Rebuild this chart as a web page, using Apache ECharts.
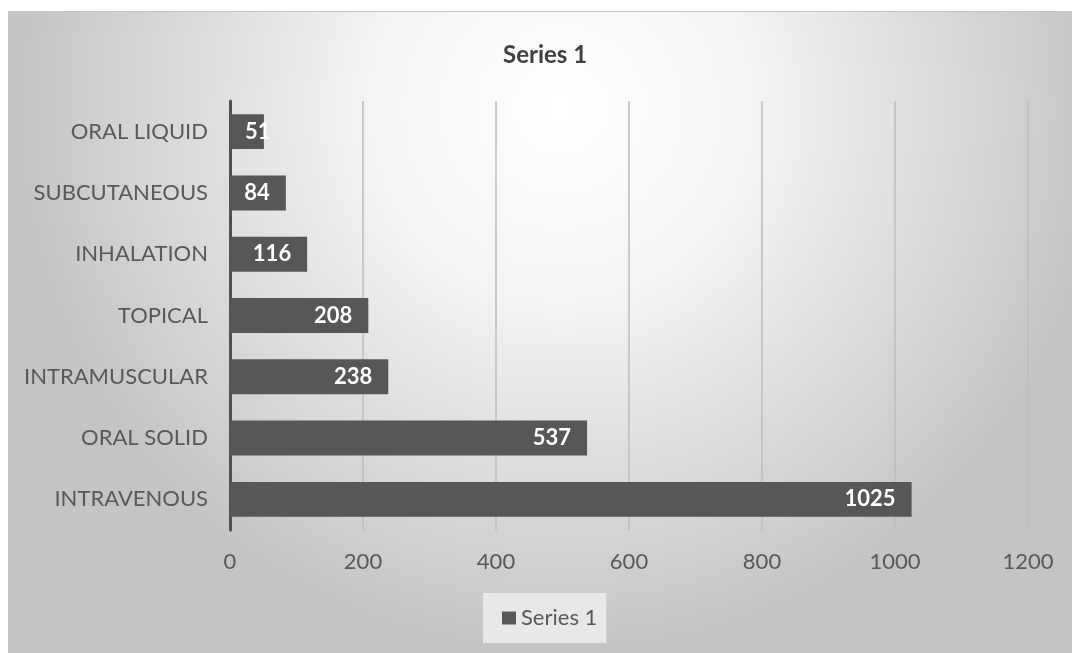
<!DOCTYPE html>
<html><head><meta charset="utf-8">
<script src="https://cdn.jsdelivr.net/npm/echarts@6/dist/echarts.min.js"></script>
<style>
html,body{margin:0;padding:0;background:#fff;width:1072px;height:653px;overflow:hidden}
#c{position:absolute;left:8px;top:11px;width:1064px;height:642px;border-top:1px solid #c8c8c8}
</style></head><body>
<div id="c"></div>
<script>
const categories = ['INTRAVENOUS','ORAL SOLID','INTRAMUSCULAR','TOPICAL','INHALATION','SUBCUTANEOUS','ORAL LIQUID'];
const values = [1025, 537, 238, 208, 116, 84, 51];
const xTicks = [0, 200, 400, 600, 800, 1000, 1200];
const seriesName = 'Series 1';

const font = 'Lato, "Noto Sans", sans-serif';
const barData = values.map(v => v < 70
  ? {value:v, label:{position:'insideLeft', distance:15}}
  : v);
const chart = echarts.init(document.getElementById('c'), null, {renderer:'canvas'});
chart.setOption({
  backgroundColor: {
    type:'radial', x:0.52, y:0.15, r:0.85,
    colorStops:[{offset:0,color:'#ffffff'},{offset:0.35,color:'#f4f4f4'},{offset:1,color:'#c4c4c4'}]
  },
  animation:false,
  title:{text:seriesName, left:490, top:26,
    textStyle:{fontFamily:font, fontSize:24, fontWeight:'bold', color:'#404040'}},
  legend:{data:[seriesName], bottom:11, left:475, icon:'rect', itemWidth:14, itemHeight:13, itemGap:6,
    backgroundColor:'rgba(235,235,235,0.9)', padding:[14,9,14,19],
    textStyle:{fontFamily:font, fontSize:22, color:'#595959'}},
  grid:{left:222, right:44, top:89, bottom:124},
  xAxis:{type:'value', min:xTicks[0], max:xTicks[xTicks.length-1], interval:200,
    axisLine:{show:false}, axisTick:{show:false},
    splitLine:{show:true, lineStyle:{color:'#bdbdbd', width:1.5}},
    axisLabel:{fontFamily:font, fontSize:22, color:'#595959', margin:21, formatter:v=>String(v)}},
  yAxis:{type:'category', data:categories,
    axisLine:{show:true, lineStyle:{color:'#505050', width:3}}, axisTick:{show:false},
    axisLabel:{fontFamily:font, fontSize:22, color:'#595959', margin:22}},
  series:[{name:seriesName, type:'bar', data:barData, barCategoryGap:'43%',
    itemStyle:{color:'#575757'},
    label:{show:true, position:'insideRight', distance:16, color:'#fff',
      fontFamily:font, fontSize:22, fontWeight:'bold'}}]
});
</script></body></html>
